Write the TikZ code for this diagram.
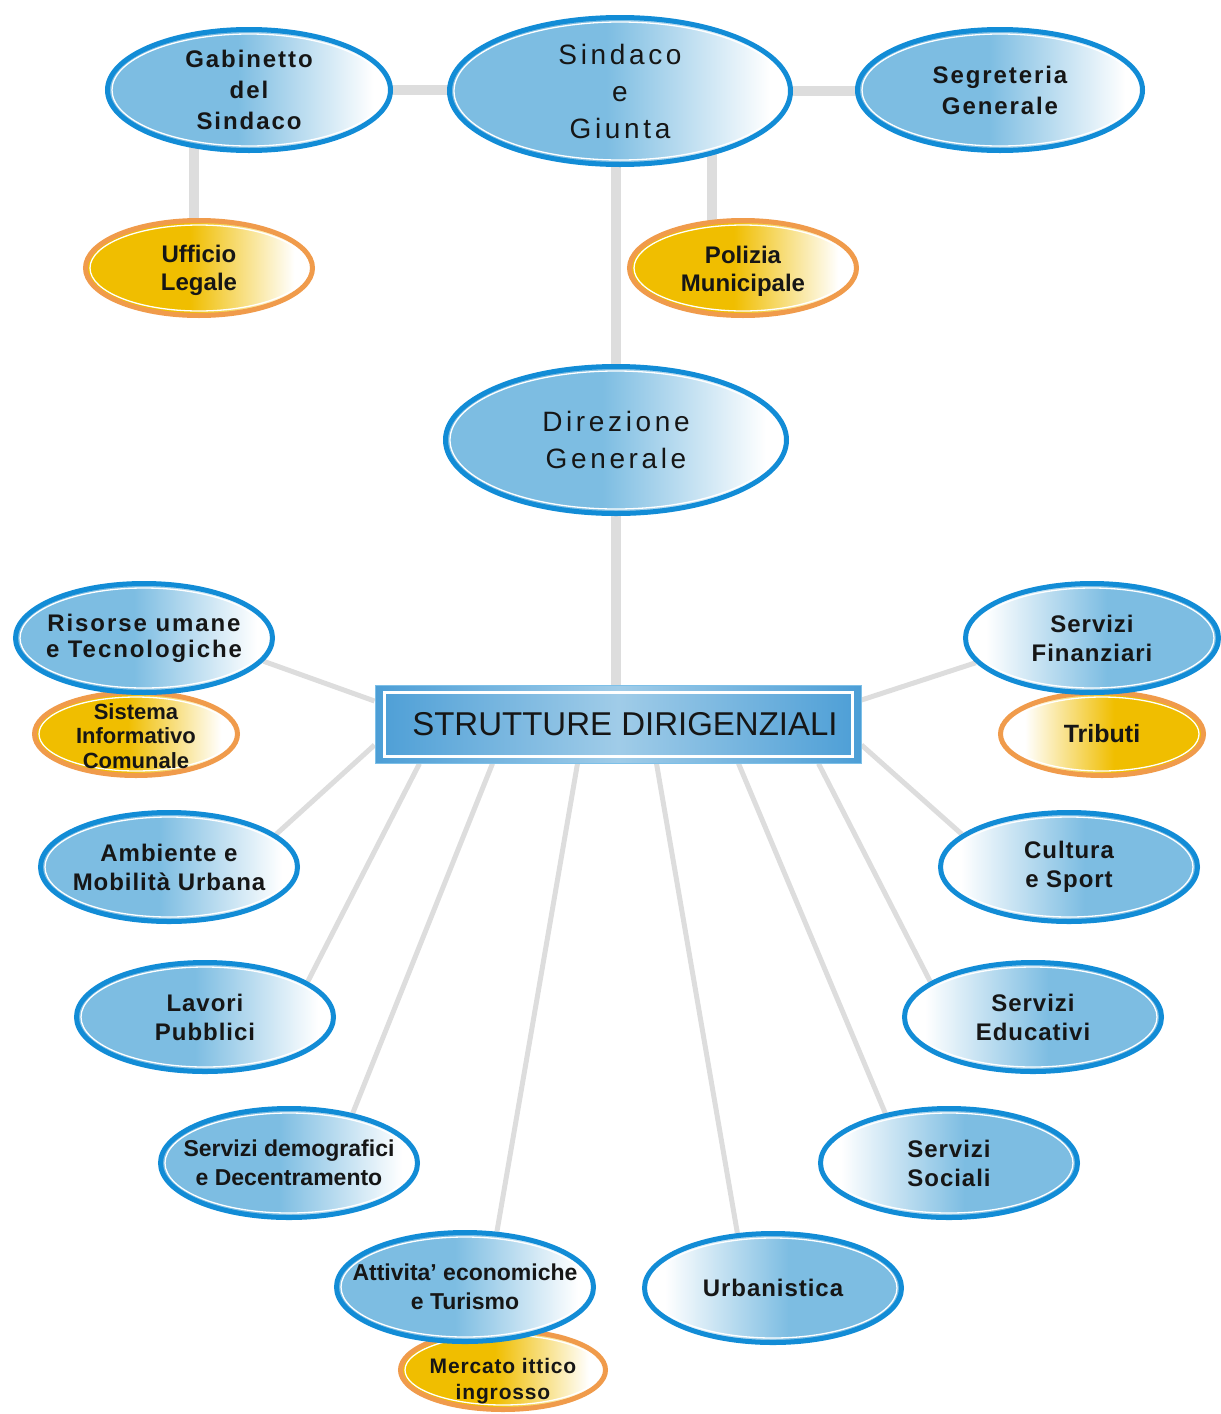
\documentclass[tikz,border=0pt]{standalone}
\usepackage{fontspec}
\setmainfont{Liberation Sans}
\newfontfamily\spfont[LetterSpace=13]{Liberation Sans}
\newfontfamily\spb[LetterSpace=4]{Liberation Sans}
\newfontfamily\spbb[LetterSpace=8]{Liberation Sans}
\usetikzlibrary{shapes.geometric,calc,backgrounds}
\definecolor{bfill}{RGB}{125,189,226}
\definecolor{bline}{RGB}{18,140,214}
\definecolor{yfill}{RGB}{240,190,0}
\definecolor{yline}{RGB}{240,155,75}
\definecolor{conn}{RGB}{221,221,221}
\definecolor{txt}{RGB}{22,22,22}
\definecolor{bdark}{RGB}{76,158,214}
\definecolor{blight}{RGB}{160,204,232}
\pgfdeclarehorizontalshading{blL}{100bp}{color(0bp)=(bfill); color(25bp)=(bfill); color(48bp)=(bfill); color(72bp)=(white); color(100bp)=(white)}
\pgfdeclarehorizontalshading{blR}{100bp}{color(0bp)=(white); color(29bp)=(white); color(53bp)=(bfill); color(100bp)=(bfill)}
\pgfdeclarehorizontalshading{yeL}{100bp}{color(0bp)=(yfill); color(25bp)=(yfill); color(48bp)=(yfill); color(71bp)=(white); color(100bp)=(white)}
\pgfdeclarehorizontalshading{yeR}{100bp}{color(0bp)=(white); color(31bp)=(white); color(53bp)=(yfill); color(100bp)=(yfill)}
\pgfdeclarehorizontalshading{boxsh}{100bp}{color(0bp)=(bdark); color(25bp)=(bdark); color(50bp)=(blight); color(75bp)=(bdark); color(100bp)=(bdark)}
\newcommand\fSin{\spfont\fontsize{28}{37}\selectfont}
\newcommand\fGab{\spbb\bfseries\fontsize{24}{31}\selectfont}
\newcommand\fBl{\spb\bfseries\fontsize{24}{29}\selectfont}
\newcommand\fBw{\spbb\bfseries\fontsize{24}{26}\selectfont}
\newcommand\fCond{\bfseries\fontsize{23}{29}\selectfont}
\newcommand\fYe{\bfseries\fontsize{24}{28}\selectfont}
\tikzset{
  oval/.style={ellipse, inner xsep=-60pt, inner ysep=-60pt, text=txt, align=center, line width=5pt, shade,
    path picture={\draw[white, line width=1.3pt] let \p1=(path picture bounding box.north east), \p2=(path picture bounding box.center) in (\p2) ellipse ({\x1-\x2-4.5pt} and {\y1-\y2-4.5pt});}},
  bL/.style={oval, shading=blL, draw=bline},
  bR/.style={oval, shading=blR, draw=bline},
  yL/.style={oval, shading=yeL, draw=yline},
  yR/.style={oval, shading=yeR, draw=yline},
  big/.style={minimum width=341pt, minimum height=147pt, font=\fSin},
  mid/.style={minimum width=257pt, minimum height=109pt},
  ysz/.style={minimum width=227pt, minimum height=95pt, font=\fYe},
  strbox/.style={rectangle, shade, shading=boxsh, draw=bline!55, line width=1pt, text=txt,
    font=\fontsize{33}{33}\selectfont,
    path picture={\shade[shading=boxsh] ($(path picture bounding box.south west)+(10pt,8pt)$) rectangle ($(path picture bounding box.north east)+(-10pt,-8pt)$);
      \draw[white, line width=3pt] ($(path picture bounding box.south west)+(9pt,7pt)$) rectangle ($(path picture bounding box.north east)+(-9pt,-7pt)$);}},
  topline/.style={conn, line width=10pt},
  boxline/.style={conn, line width=5pt}
}
\begin{document}
\begin{tikzpicture}[x=1pt, y=-1pt]
\path[use as bounding box] (0,0) rectangle (1221,1414);
% yellow (behind)
\node[yL, ysz] (uff) at (199,268) {\rule{0pt}{23pt}Ufficio\\Legale};
\node[yL, ysz] (pol) at (743,268) {\rule{0pt}{23pt}Polizia\\Municipale};
\node[yL, minimum width=203pt, minimum height=83pt, font=\bfseries\fontsize{22}{24.5}\selectfont] (sis) at (136,734) {\rule{0pt}{20pt}Sistema\\Informativo\\Comunale};
\node[yR, minimum width=203pt, minimum height=83pt, font=\bfseries\fontsize{25}{28}\selectfont] (tri) at (1102,734) {Tributi};
\node[yL, minimum width=205pt, minimum height=79pt, font=\spb\bfseries\fontsize{21}{26}\selectfont] (mer) at (503,1370) {\rule{0pt}{37pt}Mercato ittico\\ingrosso};
% blue
\node[bL, minimum width=283pt, minimum height=121pt, font=\fGab] (gab) at (249,90) {Gabinetto\\del\\Sindaco};
\node[bL, big] (sin) at (620,91) {Sindaco\\e\\Giunta};
\node[bL, minimum width=285pt, minimum height=121pt, font=\fGab] (seg) at (1000,90) {Segreteria\\Generale};
\node[bL, big] (dir) at (616,440) {Direzione\\Generale};
\node[bL, mid, font=\fBw] (ris) at (144,638) {Risorse umane\\e Tecnologiche};
\node[bR, mid, minimum width=253pt, font=\fBl] (fin) at (1092,638) {Servizi\\Finanziari};
\node[bL, mid, font=\fBl] (amb) at (169,867) {Ambiente e\\Mobilità Urbana};
\node[bR, mid, font=\fBl] (cul) at (1069,867) {Cultura\\e Sport};
\node[bL, mid, font=\fBl] (lav) at (205,1017) {Lavori\\Pubblici};
\node[bR, mid, font=\fBl] (edu) at (1033,1017) {Servizi\\Educativi};
\node[bL, mid, font=\fCond] (dem) at (289,1163) {Servizi demografici\\e Decentramento};
\node[bR, mid, font=\fBl] (soc) at (949,1163) {Servizi\\Sociali};
\node[bL, mid, font=\fCond] (att) at (465,1287) {Attivita' economiche\\e Turismo};
\node[bR, mid, font=\fBl] (urb) at (773,1288) {Urbanistica};
% central box
\node[strbox, minimum width=486pt, minimum height=78pt] (box) at (618,724) {\hspace{14pt}STRUTTURE DIRIGENZIALI};
% connectors
\coordinate (uffx) at ([xshift=-5pt]uff.center);
\coordinate (polx) at ([xshift=-31pt]pol.center);
\begin{scope}[on background layer]
\draw[topline] (gab.center) -- (gab.center -| sin.center);
\draw[topline] (sin.center) -- (sin.center -| seg.center);
\draw[topline] (uffx) -- (uffx |- gab.center);
\draw[topline] (polx) -- (polx |- sin.center);
\draw[topline] (dir.center) -- (dir.center |- sin.center);
\draw[topline] (dir.center) -- (dir.center |- box.center);
\draw[boxline] (ris.-11) -- ([yshift=23pt]box.west);
\draw[boxline] (fin.192) -- ([yshift=24pt]box.east);
\draw[boxline] (amb.17) -- ([yshift=-21pt]box.west);
\draw[boxline] (cul.163) -- ([yshift=-21pt]box.east);
\draw[boxline] (lav.19) -- ([xshift=45pt]box.south west);
\draw[boxline] (edu.161) -- ([xshift=-43pt]box.south east);
\draw[boxline] (dem.38) -- ([xshift=118pt]box.south west);
\draw[boxline] (soc.142) -- ([xshift=-123pt]box.south east);
\draw[boxline] (att.60) -- ([xshift=203pt]box.south west);
\draw[boxline] (urb.123) -- ([xshift=282pt]box.south west);
\end{scope}
\end{tikzpicture}
\end{document}
